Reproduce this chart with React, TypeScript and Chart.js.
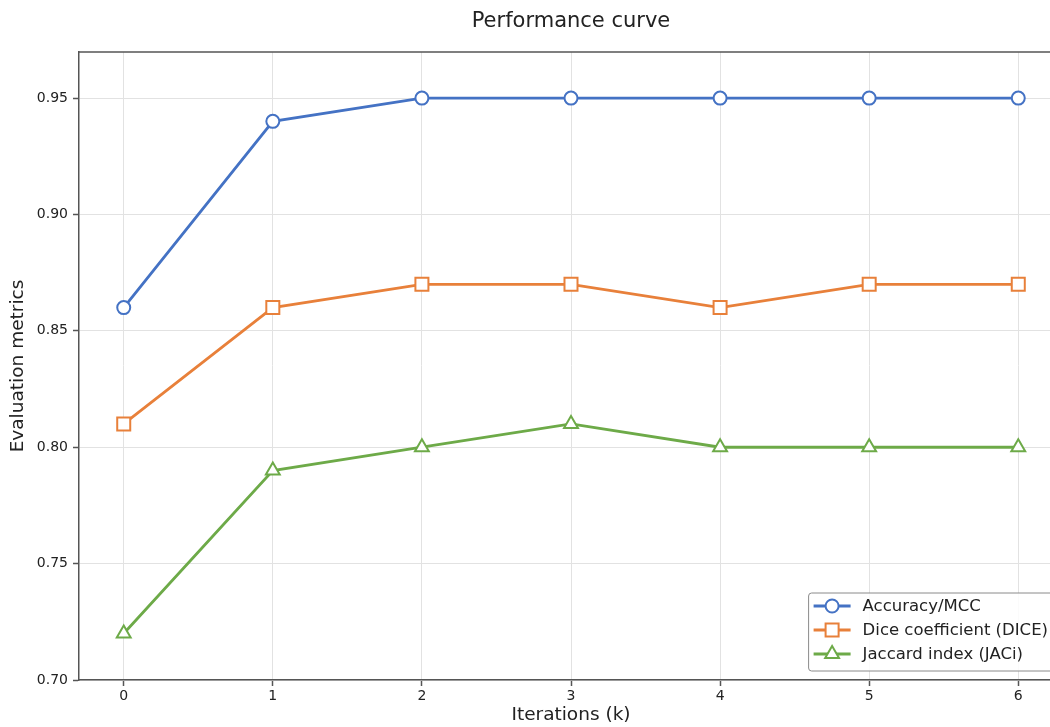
import React, { useEffect, useRef } from "react";
import { Chart, registerables } from "chart.js";
Chart.register(...registerables);

const iterations = [0, 1, 2, 3, 4, 5, 6];
const accuracy = [0.86, 0.94, 0.95, 0.95, 0.95, 0.95, 0.95];
const dice = [0.81, 0.86, 0.87, 0.87, 0.86, 0.87, 0.87];
const jaccard = [0.72, 0.79, 0.8, 0.81, 0.8, 0.8, 0.8];
const yTicks = [0.7, 0.75, 0.8, 0.85, 0.9, 0.95];
const seriesLabels = ["Accuracy/MCC", "Dice coefficient (DICE)", "Jaccard index (JACi)"];
const seriesValues = [accuracy, dice, jaccard];
const colors = ["#4472C4", "#E8803A", "#6DAA48"];
const markers = ["circle", "rect", "triangle"];
const markerRadius = [6.5, 9.2, 8];
const titleText = "Performance curve";
const xTitle = "Iterations (k)";
const yTitle = "Evaluation metrics";

const FONT = "'DejaVu Sans', 'Liberation Sans', sans-serif";
const SPINE = "#555555";

function drawMarker(ctx: CanvasRenderingContext2D, style: string, x: number, y: number, r: number) {
  ctx.beginPath();
  if (style === "circle") {
    ctx.arc(x, y, r, 0, Math.PI * 2);
  } else if (style === "rect") {
    const s = Math.SQRT1_2 * r;
    ctx.rect(x - s, y - s, 2 * s, 2 * s);
  } else {
    const h = r * 1.5;
    const half = (r * Math.sqrt(3)) / 2;
    ctx.moveTo(x, y - r);
    ctx.lineTo(x + half, y - r + h);
    ctx.lineTo(x - half, y - r + h);
    ctx.closePath();
  }
  ctx.fillStyle = "#ffffff";
  ctx.fill();
  ctx.stroke();
}

const decorPlugin = {
  id: "decor",
  afterDraw(chart: any) {
    const ctx: CanvasRenderingContext2D = chart.ctx;
    const a = chart.chartArea;
    ctx.save();
    // spines top & right
    ctx.strokeStyle = SPINE;
    ctx.lineWidth = 1.5;
    ctx.beginPath();
    ctx.moveTo(a.left, a.top);
    ctx.lineTo(a.right, a.top);
    ctx.lineTo(a.right, a.bottom);
    ctx.stroke();
    // title
    ctx.fillStyle = "#222222";
    ctx.font = `21px ${FONT}`;
    ctx.textAlign = "center";
    ctx.textBaseline = "middle";
    ctx.fillText(titleText, (a.left + a.right) / 2, 22);
    // legend
    ctx.font = `16.5px ${FONT}`;
    let maxW = 0;
    seriesLabels.forEach((l) => (maxW = Math.max(maxW, ctx.measureText(l).width)));
    const handle = 37;
    const boxW = 5 + handle + 12 + maxW + 8;
    const boxH = 78;
    const right = a.right - 7;
    const bottom = a.bottom - 9;
    const left = right - boxW;
    const top = bottom - boxH;
    ctx.beginPath();
    const rr = 3;
    ctx.moveTo(left + rr, top);
    ctx.lineTo(right - rr, top);
    ctx.quadraticCurveTo(right, top, right, top + rr);
    ctx.lineTo(right, bottom - rr);
    ctx.quadraticCurveTo(right, bottom, right - rr, bottom);
    ctx.lineTo(left + rr, bottom);
    ctx.quadraticCurveTo(left, bottom, left, bottom - rr);
    ctx.lineTo(left, top + rr);
    ctx.quadraticCurveTo(left, top, left + rr, top);
    ctx.closePath();
    ctx.fillStyle = "rgba(255,255,255,0.85)";
    ctx.fill();
    ctx.strokeStyle = "#8a8a8a";
    ctx.lineWidth = 1;
    ctx.stroke();
    seriesLabels.forEach((label, i) => {
      const y = top + 13 + i * 24;
      const x0 = left + 5;
      ctx.strokeStyle = colors[i];
      ctx.lineWidth = 2.8;
      ctx.beginPath();
      ctx.moveTo(x0, y);
      ctx.lineTo(x0 + handle, y);
      ctx.stroke();
      ctx.lineWidth = 2;
      drawMarker(ctx, markers[i], x0 + handle / 2, y, markerRadius[i]);
      ctx.fillStyle = "#222222";
      ctx.textAlign = "left";
      ctx.textBaseline = "middle";
      ctx.fillText(label, x0 + handle + 12, y + 1);
    });
    ctx.restore();
  },
};

export default function App() {
  const ref = useRef<HTMLCanvasElement>(null);
  useEffect(() => {
    if (!ref.current) return;
    const chart = new Chart(ref.current, {
      type: "line",
      data: {
        datasets: seriesLabels.map((label, i) => ({
          label,
          data: iterations.map((x, j) => ({ x, y: seriesValues[i][j] })),
          borderColor: colors[i],
          backgroundColor: "#ffffff",
          borderWidth: 2.8,
          pointStyle: markers[i] as any,
          pointRadius: markerRadius[i],
          pointBorderWidth: 2,
          pointBorderColor: colors[i],
          pointBackgroundColor: "#ffffff",
          tension: 0,
          fill: false,
        })),
      },
      options: {
        animation: false,
        responsive: false,
        layout: { padding: { top: 52, right: 12, left: 0, bottom: 0 } },
        plugins: {
          legend: { display: false },
          tooltip: { enabled: false },
          title: { display: false },
        },
        scales: {
          x: {
            type: "linear",
            min: -0.3,
            max: 6.3,
            afterBuildTicks: (scale: any) => {
              scale.ticks = iterations.map((v) => ({ value: v }));
            },
            afterFit: (scale: any) => {
              scale.height = 47;
            },
            ticks: {
              font: { family: FONT, size: 14 },
              color: "#222222",
              padding: 2,
              maxRotation: 0,
              callback: (v: any) => String(v),
            },
            grid: {
              color: "#e2e2e2",
              lineWidth: 1,
              drawTicks: true,
              tickLength: 6,
              tickColor: SPINE,
              tickWidth: 1.5,
            },
            border: { display: true, color: SPINE, width: 1.5 },
            title: {
              display: true,
              text: xTitle,
              font: { family: FONT, size: 18.5 },
              color: "#222222",
              padding: { top: 0, bottom: 1 },
            },
          },
          y: {
            type: "linear",
            min: 0.7,
            max: 0.9698,
            afterBuildTicks: (scale: any) => {
              scale.ticks = yTicks.map((v) => ({ value: v }));
            },
            afterFit: (scale: any) => {
              scale.width = 79;
            },
            ticks: {
              font: { family: FONT, size: 14 },
              color: "#222222",
              padding: 5,
              callback: (v: any) => Number(v).toFixed(2),
            },
            grid: {
              color: "#e2e2e2",
              lineWidth: 1,
              drawTicks: true,
              tickLength: 6,
              tickColor: SPINE,
              tickWidth: 1.5,
            },
            border: { display: true, color: SPINE, width: 1.5 },
            title: {
              display: true,
              text: yTitle,
              font: { family: FONT, size: 18.5 },
              color: "#222222",
              padding: { top: 7, bottom: 0 },
            },
          },
        },
      } as any,
      plugins: [decorPlugin],
    });
    return () => chart.destroy();
  }, []);
  return (
    <div
      style={{
        position: "fixed",
        left: 0,
        top: 0,
        width: 1050,
        height: 727,
        overflow: "hidden",
        background: "#ffffff",
      }}
    >
      <canvas ref={ref} width={1075} height={727} style={{ display: "block" }} />
    </div>
  );
}
